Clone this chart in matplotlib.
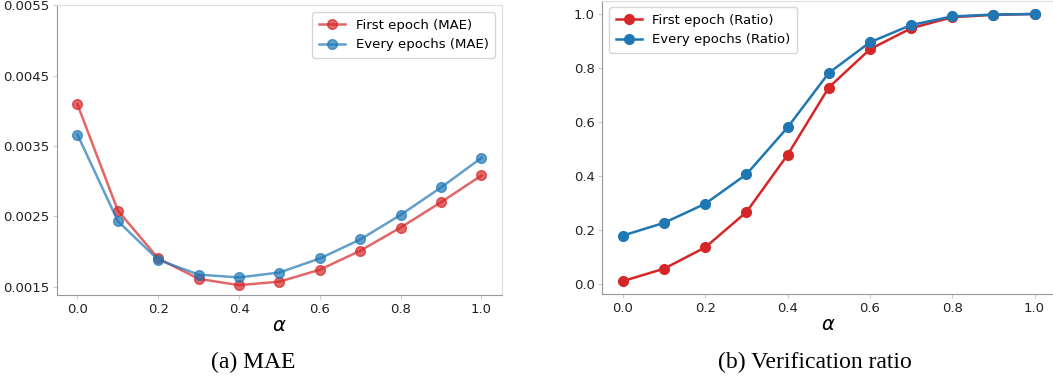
import numpy as np
import matplotlib
matplotlib.use('Agg')
import matplotlib.pyplot as plt

alpha = [0.0, 0.1, 0.2, 0.3, 0.4, 0.5, 0.6, 0.7, 0.8, 0.9, 1.0]

mae_first = [0.00409, 0.00258, 0.00190, 0.00161, 0.00152, 0.00157, 0.00174, 0.00201, 0.00234, 0.00270, 0.00308]
mae_every = [0.00366, 0.00243, 0.00188, 0.00167, 0.00163, 0.00170, 0.00190, 0.00217, 0.00252, 0.00291, 0.00333]

ratio_first = [0.009, 0.055, 0.134, 0.265, 0.477, 0.727, 0.869, 0.947, 0.988, 0.997, 1.0]
ratio_every = [0.178, 0.225, 0.296, 0.405, 0.579, 0.781, 0.895, 0.959, 0.991, 0.998, 1.0]

mae_yticks = [0.0015, 0.0025, 0.0035, 0.0045, 0.0055]


def style_axes(ax):
    for side in ['left', 'bottom']:
        ax.spines[side].set_color('#999999')
    for side in ['top', 'right']:
        ax.spines[side].set_color('#dddddd')
    ax.tick_params(labelsize=9.5, colors='#222222', length=3, color='#cccccc', pad=2.5)
    ax.set_xticks([0.0, 0.2, 0.4, 0.6, 0.8, 1.0])
    ax.set_xlabel(r'$\alpha$', fontsize=14, labelpad=0)


fig = plt.figure(figsize=(10.53, 3.81), dpi=100)

# (a) MAE
ax1 = fig.add_axes([0.0544, 0.2257, 0.422, 0.7603])
ax1.plot(alpha, mae_first, '-o', color='tab:red', alpha=0.7, lw=1.8, ms=7, label='First epoch (MAE)')
ax1.plot(alpha, mae_every, '-o', color='tab:blue', alpha=0.7, lw=1.8, ms=7, label='Every epochs (MAE)')
ax1.set_yticks(mae_yticks)
ax1.set_yticklabels(['%.4f' % v for v in mae_yticks])
ax1.set_ylim(0.00138, 0.0055)
ax1.set_xlim(-0.05, 1.05)
style_axes(ax1)
ax1.legend(loc='upper right', fontsize=9.5, handlelength=2.0, borderpad=0.5)

# (b) Verification ratio
ax2 = fig.add_axes([0.572, 0.2276, 0.43, 0.771])
ax2.plot(alpha, ratio_first, '-o', color='tab:red', lw=1.8, ms=7, label='First epoch (Ratio)')
ax2.plot(alpha, ratio_every, '-o', color='tab:blue', lw=1.8, ms=7, label='Every epochs (Ratio)')
ax2.set_yticks([0.0, 0.2, 0.4, 0.6, 0.8, 1.0])
ax2.set_ylim(-0.04, 1.05)
ax2.set_xlim(-0.05, 1.05)
style_axes(ax2)
ax2.legend(loc='upper left', fontsize=9.5, handlelength=2.0, borderpad=0.5)

fig.text(0.240, 0.048, '(a) MAE', ha='center', va='center',
         fontsize=17, family='Liberation Serif')
fig.text(0.774, 0.048, '(b) Verification ratio', ha='center', va='center',
         fontsize=17, family='Liberation Serif')

fig.savefig('out.png', dpi=100)
